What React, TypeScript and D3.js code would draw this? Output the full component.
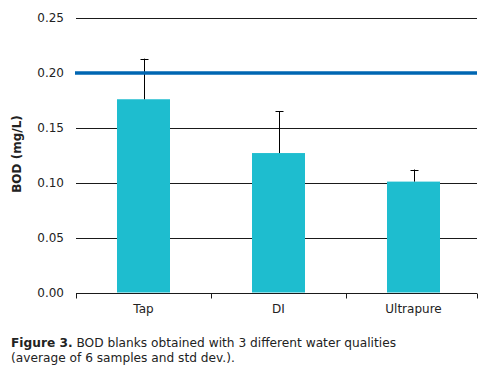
import { useEffect, useRef } from "react";
import * as d3 from "d3";

const categories = ["Tap", "DI", "Ultrapure"];
const means = [0.176, 0.127, 0.101];
const stdDevs = [0.037, 0.038, 0.011];
const yTicks = [0, 0.05, 0.1, 0.15, 0.2, 0.25];
const threshold = 0.2;

export default function App() {
    const svgRef = useRef<SVGSVGElement>(null);

    useEffect(() => {
        if (!svgRef.current) return;
        const width = 495;
        const height = 372;
        const left = 76;
        const right = 477;
        const top = 18;
        const bottom = 292.5;
        const font = "Verdana, 'DejaVu Sans', sans-serif";

        const svg = d3.select(svgRef.current);
        svg.selectAll("*").remove();
        svg.attr("width", width).attr("height", height);

        const x = d3.scaleBand<string>().domain(categories).range([left, right + 4]);
        const y = d3.scaleLinear().domain([0, 0.25]).range([bottom, top]);
        const barW = 53;

        // grid lines
        svg.append("g")
            .selectAll("line")
            .data(yTicks.filter((t) => t > 0))
            .enter()
            .append("line")
            .attr("x1", left)
            .attr("x2", right)
            .attr("y1", (d) => Math.round(y(d)) + 0.5)
            .attr("y2", (d) => Math.round(y(d)) + 0.5)
            .style("stroke", "#1a1a1a")
            .style("stroke-width", 1);

        // y tick labels
        svg.append("g")
            .selectAll("text")
            .data(yTicks)
            .enter()
            .append("text")
            .attr("x", 64)
            .attr("y", (d) => y(d))
            .attr("dy", "0.35em")
            .attr("text-anchor", "end")
            .style("font-family", font)
            .style("font-size", "12px")
            .style("fill", "#222")
            .text((d) => d.toFixed(2));

        // bars
        svg.append("g")
            .selectAll("rect")
            .data(means)
            .enter()
            .append("rect")
            .attr("x", (d, i) => x(categories[i])! + x.bandwidth() / 2 - barW / 2)
            .attr("width", barW)
            .attr("y", (d) => y(d))
            .attr("height", (d) => y(0) - y(d))
            .style("fill", "#1ebdcf");

        // error bars (upper only)
        const err = svg.append("g");
        means.forEach((m, i) => {
            const cx = Math.round(x(categories[i])! + x.bandwidth() / 2) + 0.5;
            err.append("line")
                .attr("x1", cx).attr("x2", cx)
                .attr("y1", y(m)).attr("y2", y(m + stdDevs[i]))
                .style("stroke", "#000").style("stroke-width", 1);
            err.append("line")
                .attr("x1", cx - 4).attr("x2", cx + 4)
                .attr("y1", Math.round(y(m + stdDevs[i])) + 0.5)
                .attr("y2", Math.round(y(m + stdDevs[i])) + 0.5)
                .style("stroke", "#000").style("stroke-width", 1);
        });

        // threshold line
        svg.append("line")
            .attr("x1", left - 1)
            .attr("x2", right)
            .attr("y1", y(threshold))
            .attr("y2", y(threshold))
            .style("stroke", "#0066b2")
            .style("stroke-width", 3.5);

        // x axis
        const axY = Math.round(y(0)) + 0.5;
        svg.append("line")
            .attr("x1", left).attr("x2", right)
            .attr("y1", axY).attr("y2", axY)
            .style("stroke", "#1a1a1a");
        const bounds = [...categories.map((c) => x(c)!), right];
        svg.append("g")
            .selectAll("line")
            .data(bounds)
            .enter()
            .append("line")
            .attr("x1", (d) => Math.round(d) + 0.5)
            .attr("x2", (d) => Math.round(d) + 0.5)
            .attr("y1", axY)
            .attr("y2", axY + 5)
            .style("stroke", "#1a1a1a");

        svg.append("g")
            .selectAll("text")
            .data(categories)
            .enter()
            .append("text")
            .attr("x", (d) => x(d)! + x.bandwidth() / 2)
            .attr("y", 313)
            .attr("text-anchor", "middle")
            .style("font-family", font)
            .style("font-size", "12px")
            .style("fill", "#222")
            .text((d) => d);

        // y label
        svg.append("text")
            .attr("transform", `translate(21,154) rotate(-90)`)
            .attr("text-anchor", "middle")
            .style("font-family", font)
            .style("font-size", "12px")
            .style("font-weight", "bold")
            .style("fill", "#222")
            .text("BOD (mg/L)");

        // caption
        const cap = svg.append("text")
            .attr("x", 11)
            .attr("y", 347)
            .style("font-family", font)
            .style("font-size", "12.2px")
            .style("fill", "#222");
        cap.append("tspan").style("font-weight", "bold").text("Figure 3.");
        cap.append("tspan").text(" BOD blanks obtained with 3 different water qualities");
        svg.append("text")
            .attr("x", 11)
            .attr("y", 362)
            .style("font-family", font)
            .style("font-size", "12.2px")
            .style("fill", "#222")
            .text("(average of 6 samples and std dev.).");
    }, []);

    return (
        <div style={{ position: "absolute", left: 0, top: 0, background: "#fff" }}>
            <svg ref={svgRef}></svg>
        </div>
    );
}
